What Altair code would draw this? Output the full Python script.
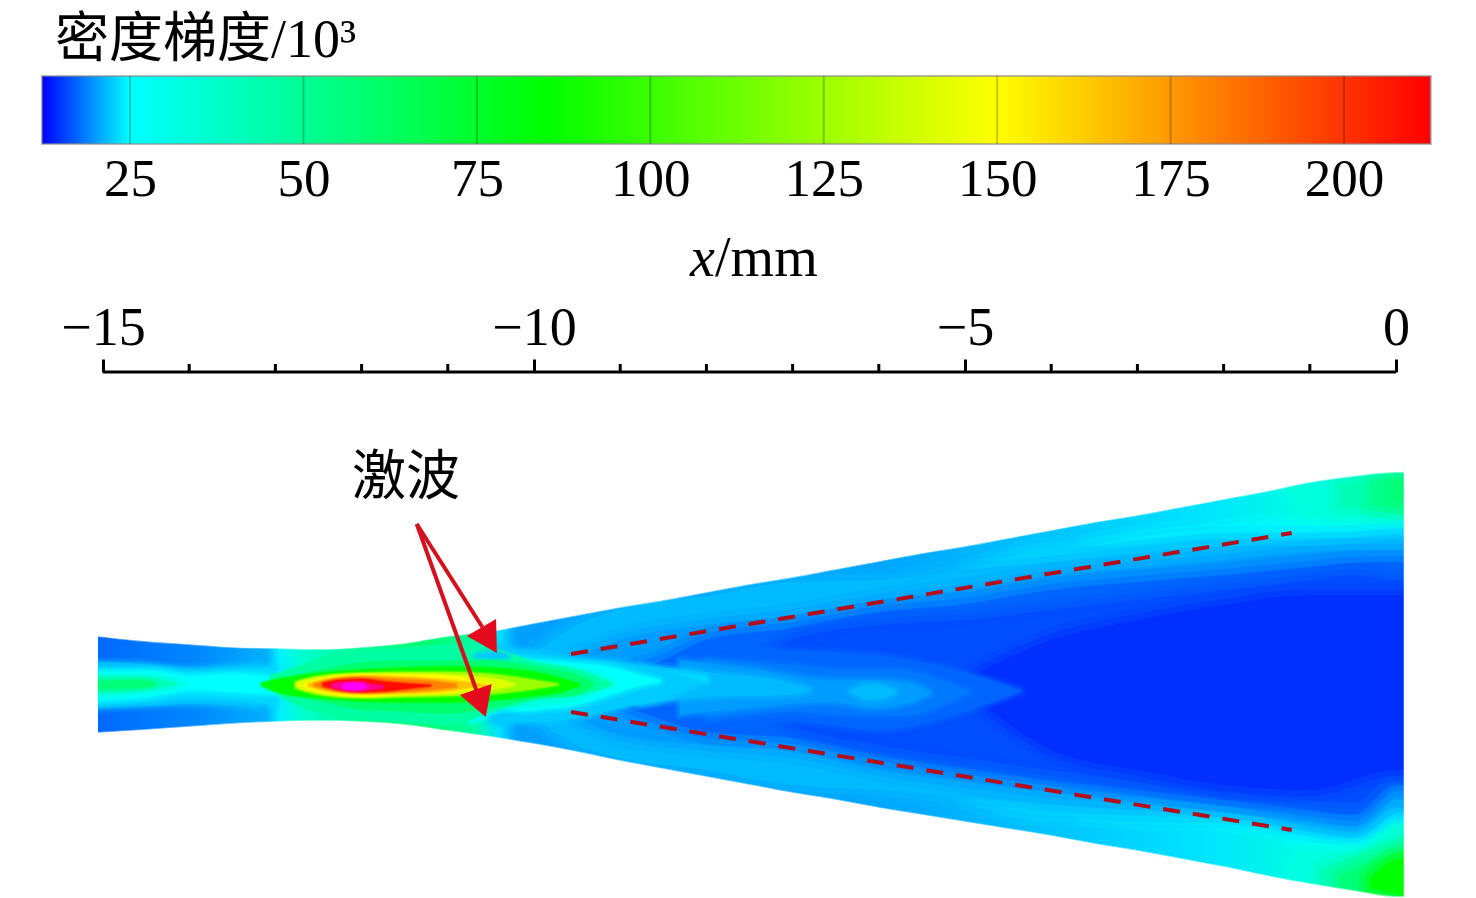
import altair as alt
import pandas as pd

SERIF = "Liberation Serif"
CJK = "Liberation Serif, Noto Sans CJK SC"

# colour scale (value -> colour)
SCALE_VALUES = [12.3, 25, 85, 150, 212.5, 235]
SCALE_COLORS = ["#0000ff", "#00ffff", "#00ff00", "#ffff00", "#ff0000", "#ff00ff"]
BAR_TICKS = [25, 50, 75, 100, 125, 150, 175, 200]

# x axis (mm)
MM_MAJOR = [-15, -10, -5, 0]
MM_MINOR = [-14, -13, -12, -11, -9, -8, -7, -6, -4, -3, -2, -1]

# nozzle walls: x in mm, height above centre line in picture units
WALL_X = [-15.06, -14.5, -14, -13.5, -13, -12.5, -12, -11.5, -11, -10.5, -10, -9.5, -9, -8.5, -8, -7.5, -7, -6.5, -6, -5.5, -5, -4.5, -4, -3.5, -3, -2.5, -2, -1.5, -1, -0.5, 0, 0.09]
WALL_TOP = [49, 44, 41, 38, 37, 36, 38, 42, 49, 54, 62, 70, 78, 85, 93, 101, 108, 116, 124, 132, 139, 147, 155, 163, 170, 178, 186, 194, 203, 209, 213, 213]
WALL_BOT = [-48, -45, -42, -39, -37, -36, -37, -40, -46, -52, -59, -67, -76, -84, -92, -100, -108, -115, -123, -130, -137, -144, -151, -159, -166, -174, -182, -191, -199, -206, -212, -212]

# colour along the wall
WALL_STOP_X = [-15.06, -13.9, -13.1, -12.95, -12.7, -12.0, -11.2, -10.7, -10.4, -10.2, -8.0, -5.7, -4.0, -2.2, -1.0, 0.09]
WALL_STOP_C = ["#0068ff", "#0088ff", "#00b0ff", "#00f0ff", "#00ffd0", "#00ff90", "#00ff70", "#00ffa0", "#00e0ff", "#00a0ff", "#009cff", "#00a8ff", "#00c4ff", "#00e4ff", "#00ffe0", "#00ffc0"]

# contour bands: (x mm, upper edge, lower edge)
TR40 = [(-1.23, 197, 193), (-0.77, 205, 173), (0.09, 212, 163)]
TR50 = [(-0.65, 201, 180), (0.09, 209, 170)]
TR60 = [(-0.3, 203, 180), (0.09, 208, 177)]
TR65 = [(-0.07, 203, 185), (0.09, 205, 183)]
BR40 = [(-1.23, -183, -193), (-0.77, -163, -201), (0.09, -145, -212)]
BR55 = [(-0.88, -185, -200), (-0.53, -173, -205), (0.09, -153, -212)]
BR70 = [(-0.65, -190, -202), (-0.3, -177, -208), (0.09, -163, -212)]
BR85 = [(-0.3, -193, -203), (-0.07, -177, -208), (0.09, -173, -211)]
L25 = [(-2.2, 150, -132), (-1.5, 159, -143), (-1, 156, -155), (-0.5, 156, -155), (0, 157, -133), (0.09, 157, -133)]
L24 = [(-3.6, 139, -130), (-3, 148, -133), (-2, 155, -135), (-1, 153, -151), (-0.5, 153, -153), (0, 153, -130), (0.09, 153, -130)]
L22 = [(-5, 113, -112), (-4, 137, -131), (-3, 140, -130), (-2, 147, -131), (-1, 147, -145), (-0.5, 148, -148), (0, 150, -127), (0.09, 150, -127)]
L20 = [(-10.3, 10, -10), (-9.5, 60, -60), (-9, 76, -73), (-8, 89, -85), (-7, 103, -100), (-6, 105, -105), (-5, 115, -113), (-4, 123, -120), (-3, 132, -125), (-2, 139, -127), (-1, 139, -140), (-0.5, 141, -145), (0, 145, -123), (0.09, 145, -123)]
L18 = [(-10, 5, -5), (-9, 45, -50), (-8, 60, -60), (-7, 70, -67), (-6, 85, -85), (-5, 95, -97), (-4, 110, -107), (-3, 117, -113), (-2, 125, -121), (-1, 133, -135), (-0.5, 135, -141), (0, 135, -115), (0.09, 135, -115)]
L16 = [(-9.5, 2, -2), (-8.5, 25, -35), (-8, 45, -47), (-7, 57, -53), (-6, 73, -70), (-5, 81, -83), (-4, 95, -95), (-3, 103, -105), (-2, 110, -115), (-1, 118, -125), (-0.5, 122, -130), (0, 123, -100), (0.09, 123, -100)]
L15 = [(-7.6, 10, -10), (-7, 45, -40), (-6, 60, -60), (-5, 65, -73), (-4, 75, -85), (-3, 85, -97), (-2, 95, -108), (-1, 105, -115), (-0.5, 110, -118), (0, 105, -90), (0.09, 105, -90)]
L14 = [(-5, 5, -5), (-4, 45, -65), (-3, 65, -85), (-2, 80, -100), (-1, 90, -105), (0, 90, -85), (0.09, 90, -85)]
C16 = [(-8, 40, -43), (-7, 35, -37), (-6, 30, -45), (-5, 13, -27), (-4.36, -5, -7)]
C17 = [(-8, 27, -35), (-7, 20, -27), (-6.33, 15, -30), (-5.75, 15, -31), (-5.29, 5, -21), (-4.94, -6, -8)]
C18 = [(-8.31, 25, -30), (-7.5, 17, -23), (-6.57, 5, -17), (-6.08, 5, -23), (-5.64, 2, -18), (-5.4, -7, -9)]
C20 = [(-8.77, 20, -20), (-8, 13, -12), (-7.03, 2, -10), (-6.8, -4, -6)]
BLOB = [(-6.33, -5, -7), (-6.08, 1, -15), (-5.81, -5, -9)]
S23 = [(-9.4, -18, -25), (-8.9, -2, -17), (-8.42, 12, 0), (-8, 8, 4)]
A20 = [(-15.06, 23, -23), (-14.5, 21, -21), (-14, 17, -19), (-13.5, 20, -21), (-13.2, 22, -24)]
A22 = [(-15.06, 17, -19), (-14.5, 17, -17), (-14, 13, -14), (-13.5, 15, -15), (-13, 19, -21)]
A25 = [(-15.06, 13, -15), (-14.5, 14, -12), (-14.16, 11, -7), (-14, 9, -5), (-13.5, 11, -7), (-13, 9, -9), (-12.6, 10, -10)]
A40 = [(-15.06, 10, -11), (-14.5, 10, -7), (-14.16, 5, -3), (-14.05, 1, 1)]
A55 = [(-15.06, 8, -8), (-14.5, 8, -5), (-14.28, 4, -1), (-14.16, 2, 1)]
A70 = [(-15.06, 4, -4), (-14.57, 5, -3), (-14.4, 2, -1)]
J21 = [(-10.51, 40, -37), (-10, 33, -37), (-9.5, 27, -33), (-9, 23, -23), (-8.54, 15, -15), (-8.07, 3, 1)]
J25 = [(-10.74, 35, -37), (-10.5, 29, -31), (-10, 25, -25), (-9.5, 22, -20), (-9.12, 18, -10), (-8.77, 10, -1), (-8.54, 5, 3)]
J40 = [(-11.09, 35, -30), (-10.5, 25, -25), (-10, 21, -21), (-9.5, 17, -15), (-9.23, 10, -5), (-9.06, 3, 1)]
J60 = [(-13.06, 9, -5), (-12.71, 19, -21), (-12.37, 30, -30), (-12, 35, -33), (-11.5, 37, -37), (-11, 40, -40), (-10.5, 37, -27), (-10, 23, -15), (-9.5, 15, -10), (-9.12, 2, -1)]
J72 = [(-13, 4, -3), (-12.6, 12, -13), (-12, 22, -24), (-11.5, 24, -26), (-11, 24, -28), (-10.5, 24, -22), (-10, 18, -13), (-9.5, 10, -9), (-9.3, 1, 0)]
P_TOP = [(-10.68, 30, 28), (-10.45, 33, 27), (-10.3, 30, 28)]
P_BOT = [(-10.5, -32, -33), (-10.35, -28, -38), (-10.1, -32, -34)]
J85 = [(-13.16, 2, -1), (-12.89, 7, -9), (-12.48, 12, -13), (-12, 15, -16), (-11.5, 17, -17), (-11, 18, -17), (-10.5, 17, -15), (-10, 13, -11), (-9.7, 7, -7), (-9.47, 1, -1)]
J110 = [(-12.77, 3, -3), (-12.48, 9, -10), (-12, 12, -13), (-11.5, 13, -12), (-11, 13, -11), (-10.5, 11, -9), (-10, 5, -4), (-9.72, 1, 0)]
J135 = [(-12.75, 2, -2), (-12.66, 5, -5), (-12, 11, -12), (-11.5, 11, -10), (-11, 10, -9), (-10.5, 7, -5), (-10.22, 1, 0)]
J150 = [(-12.66, 1, -2), (-12.4, 7, -8), (-12, 10, -11), (-11.5, 10, -9), (-11, 9, -7), (-10.63, 3, -3), (-10.5, 1, -1)]
J170 = [(-12.62, 1, -1), (-12.4, 6, -6), (-12, 9, -9), (-11.5, 8, -8), (-11, 5, -6), (-10.7, 2, -2), (-10.55, 0, -1)]
J190 = [(-12.55, 1, -1), (-12.3, 6, -6), (-12, 8, -8), (-11.6, 6, -7), (-11.2, 4, -5), (-10.9, 1, -2)]
J212 = [(-12.45, 2, -1), (-12.25, 5, -5), (-12, 6, -7), (-11.7, 3, -6), (-11.4, 1, -3), (-11.2, 0, -1)]
J225 = [(-12.35, 1, -2), (-12.2, 3, -5), (-12, 3, -6), (-11.85, 0, -4), (-11.75, -1, -3)]
J235 = [(-12.22, 0, -3), (-12.1, 2, -5), (-12, 1, -4), (-11.95, -1, -3)]

BANDS = [
    (42, TR40), (55, TR50), (65, TR60), (70, TR65),
    (40, BR40), (55, BR55), (70, BR70), (85, BR85),
    (25, L25), (24, L24), (22, L22), (20, L20), (18, L18), (15, L16), (14, L15), (13, L14),
    (15, C16), (16, C17), (18, C18), (20, C20), (20, BLOB), (22.5, S23),
    (20, A20), (22, A22), (25, A25), (40, A40), (55, A55), (70, A70),
    (21, J21), (25, J25), (40, J40), (60, J60), (21, P_TOP), (21, P_BOT), (72, J72),
    (85, J85), (110, J110), (135, J135), (150, J150), (170, J170), (190, J190),
    (212, J212), (225, J225), (235, J235),
]
SOFT_EDGE_BANDS = (L25, L24, L22, L20, L18, L16, L15, L14, TR40, TR50, TR60, TR65, BR40, BR55, BR70, BR85)

# dashed lines and arrows
DASH_X = [-9.57, -1.21]
DASH_TOP = [31, 152]
DASH_BOT = [-27, -145]
ARROW1_X = [-11.36, -10.6]
ARROW1_Y = [161, 58]
ARROW2_X = [-11.36, -10.67]
ARROW2_Y = [161, -5]
HEAD1 = [(-10.78, 49, 49), (-10.44, 66, 32.5), (-10.43, 32, 32)]
HEAD2 = [(-10.86, -10, -10), (-10.56, -1, -32), (-10.49, 1, 1)]

X_MM = alt.Scale(domain=[-16.102, 0.835])
Y_UNIT = alt.Scale(domain=[-212, 313])
COLOR = alt.Scale(domain=SCALE_VALUES, range=SCALE_COLORS)
WIDTH = 1460
AXIS_MM = alt.Axis(
    orient="top", values=MM_MAJOR, domain=False, grid=False, title=None, format="d",
    tickSize=13, tickWidth=3, tickColor="black", labelFont=SERIF, labelFontSize=54,
    labelColor="black", labelPadding=4, labelAngle=0)


def xe(field="x"):
    return alt.X(f"{field}:Q", scale=X_MM, axis=AXIS_MM)


def ye(field="y"):
    return alt.Y(f"{field}:Q", scale=Y_UNIT, axis=None)


# ---------- colour bar ----------
BAR_X = alt.Scale(domain=[7.41, 217.87])
AXIS_BAR = alt.Axis(values=BAR_TICKS, ticks=False, domain=False, grid=False, title=None, labelFont=SERIF,
                    labelFontSize=53, labelColor="black", labelPadding=9, labelAngle=0)
span = SCALE_VALUES[4] - SCALE_VALUES[0]
bar_gradient = alt.LinearGradient(
    gradient="linear", x1=0, x2=1, y1=0, y2=0,
    stops=[alt.GradientStop(color=c, offset=(v - SCALE_VALUES[0]) / span)
           for v, c in zip(SCALE_VALUES[:5], SCALE_COLORS[:5])],
)
bar = alt.Chart(pd.DataFrame({"a": [SCALE_VALUES[0]], "b": [SCALE_VALUES[4]]})).mark_rect(
    color=bar_gradient, stroke="#8a8a8a", strokeOpacity=0.6, strokeWidth=2
).encode(x=alt.X("a:Q", scale=BAR_X, axis=AXIS_BAR), x2="b:Q")
bar_ticks = alt.Chart(pd.DataFrame({"t": BAR_TICKS})).mark_rule(color="black", opacity=0.22, strokeWidth=2).encode(
    x=alt.X("t:Q", scale=BAR_X, axis=AXIS_BAR)
)
# an invisible rule reserves the room above the bar, so the heading's box does not push the layout
headroom = alt.Chart(pd.DataFrame({"t": BAR_TICKS[:1]})).mark_rule(strokeOpacity=0).encode(
    x=alt.X("t:Q", scale=BAR_X, axis=AXIS_BAR), y=alt.value(-68), y2=alt.value(0)
)
heading = alt.Chart(pd.DataFrame({"x": [14.19], "t": ["密度梯度/10³"]})).mark_text(
    font=CJK, fontSize=54, align="left", baseline="alphabetic", color="black"
).encode(x=alt.X("x:Q", scale=BAR_X, axis=AXIS_BAR), y=alt.value(-19), text="t:N")
panel_bar = alt.layer(bar, bar_ticks, headroom, heading).properties(width=WIDTH, height=68)

# ---------- nozzle ----------
base_stops = [alt.GradientStop(color=c, offset=(x - WALL_X[0]) / (WALL_X[-1] - WALL_X[0]))
              for x, c in zip(WALL_STOP_X, WALL_STOP_C)]
base = alt.Chart(pd.DataFrame({"x": WALL_X, "y": WALL_TOP, "y2": WALL_BOT})).mark_area(
    interpolate="monotone", clip=False,
    color=alt.LinearGradient(gradient="linear", x1=0, x2=1, y1=0, y2=0, stops=base_stops),
).encode(x=xe(), y=ye(), y2="y2:Q")

field_layers = []
for value, band in BANDS:
    df = pd.DataFrame({"v": [value] * len(band), "x": [p[0] for p in band],
                       "y": [p[1] for p in band], "y2": [p[2] for p in band]})
    wide = any(band is b for b in SOFT_EDGE_BANDS)
    w1, w2 = (24, 12) if wide else ((10, 5) if value <= 40 else (4, 2))
    stroke = alt.Stroke("v:Q", scale=COLOR, legend=None)
    field_layers.append(
        alt.Chart(df).mark_area(interpolate="monotone", fillOpacity=0, strokeWidth=w1, strokeOpacity=0.22,
                                strokeJoin="round").encode(x=xe(), y=ye(), y2="y2:Q", stroke=stroke))
    field_layers.append(
        alt.Chart(df).mark_area(interpolate="monotone", strokeWidth=w2, strokeOpacity=0.4,
                                strokeJoin="round").encode(
            x=xe(), y=ye(), y2="y2:Q", stroke=stroke,
            color=alt.Color("v:Q", scale=COLOR, legend=None)))

# white surround keeps the soft band edges inside the nozzle
mask_top = alt.Chart(pd.DataFrame({"x": WALL_X, "y": [t + 45 for t in WALL_TOP], "y2": WALL_TOP})).mark_area(
    interpolate="monotone", color="white", stroke="white", strokeWidth=2, strokeOpacity=0.5
).encode(x=xe(), y=ye(), y2="y2:Q")
mask_bot = alt.Chart(pd.DataFrame({"x": WALL_X, "y": WALL_BOT, "y2": [-225] * len(WALL_X)})).mark_area(
    interpolate="monotone", color="white", stroke="white", strokeWidth=2, strokeOpacity=0.5
).encode(x=xe(), y=ye(), y2="y2:Q")
mask_ends = alt.Chart(pd.DataFrame({"a": [-15.5, 0.09], "b": [-15.06, 0.5], "y": [260, 260], "y2": [-225, -225]})).mark_rect(
    color="white"
).encode(x=xe("a"), x2="b:Q", y=ye(), y2="y2:Q")

dash_df = pd.DataFrame({
    "x": DASH_X * 2, "y": DASH_TOP + DASH_BOT, "line": ["top", "top", "bot", "bot"]})
dashes = alt.Chart(dash_df).mark_line(color="#b40d1c", strokeWidth=4, strokeDash=[17, 13]).encode(
    x=xe(), y=ye(), detail="line:N")

arrow_df = pd.DataFrame({
    "x": ARROW1_X + ARROW2_X, "y": ARROW1_Y + ARROW2_Y, "line": ["a", "a", "b", "b"]})
arrows = alt.Chart(arrow_df).mark_line(color="#d3121f", strokeWidth=4).encode(
    x=xe(), y=ye(), detail="line:N")
head_rows = [{"h": n, "x": x, "y": a, "y2": b} for n, hd in (("a", HEAD1), ("b", HEAD2)) for x, a, b in hd]
heads = alt.Chart(pd.DataFrame(head_rows)).mark_area(color="#e30b1d", clip=False).encode(
    x=xe(), y=ye(), y2="y2:Q", detail="h:N")

# axis: major ticks and labels from the axis, baseline and minor ticks from rules
axis_line = alt.Chart(pd.DataFrame({"a": [MM_MAJOR[0]], "b": [MM_MAJOR[-1]], "y": [313]})).mark_rule(
    color="black", strokeWidth=3
).encode(x=xe("a"), x2="b:Q", y=ye())
minor = alt.Chart(pd.DataFrame({"x": MM_MINOR, "y": [313] * 12, "y2": [321] * 12})).mark_rule(
    color="black", strokeWidth=3
).encode(x=xe(), y=ye(), y2="y2:Q")

label_x = alt.Chart(pd.DataFrame({"x": [-8.19], "y": [409], "t": ["x"]})).mark_text(
    font=SERIF, fontSize=56, fontStyle="italic", align="left", baseline="alphabetic", color="black"
).encode(x=xe(), y=ye(), text="t:N")
label_mm = alt.Chart(pd.DataFrame({"x": [-7.9], "y": [409], "t": ["/mm"]})).mark_text(
    font=SERIF, fontSize=56, align="left", baseline="alphabetic", color="black"
).encode(x=xe(), y=ye(), text="t:N")
label_shock = alt.Chart(pd.DataFrame({"x": [-12.11], "y": [190], "t": ["激波"]})).mark_text(
    font=CJK, fontSize=54, align="left", baseline="alphabetic", color="black"
).encode(x=xe(), y=ye(), text="t:N")

panel_nozzle = alt.layer(
    base, *field_layers, mask_top, mask_bot, mask_ends,
    axis_line, minor, label_x, label_mm, label_shock, dashes, arrows, heads
).properties(width=WIDTH, height=525)

chart = alt.vconcat(panel_bar, panel_nozzle, spacing=228, bounds="flush").properties(
    padding=0, background="white"
).configure_view(stroke=None)

chart.save("out.html", embed_options={"renderer": "svg", "actions": False})
